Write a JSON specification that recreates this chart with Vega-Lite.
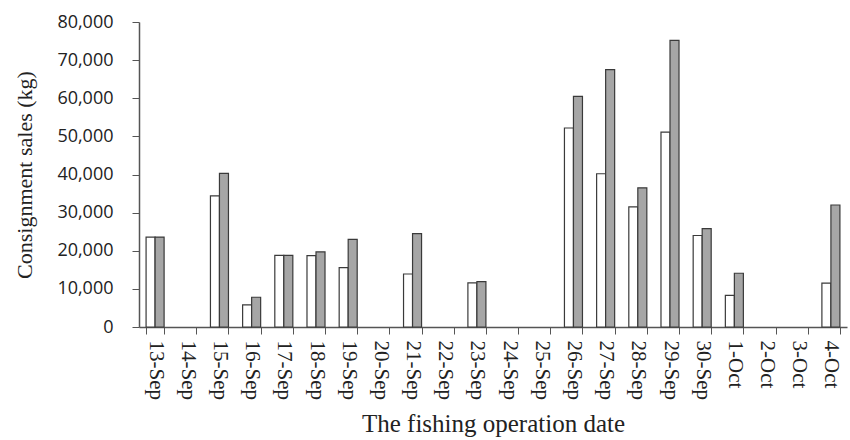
{
  "$schema": "https://vega.github.io/schema/vega-lite/v6.json",
  "autosize": {"type": "none"},
  "width": 708,
  "height": 305,
  "padding": {"left": 139, "top": 22, "right": 3, "bottom": 113},
  "background": "white",
  "config": {"view": {"stroke": null}},
  "data": {
    "values": [
      {"date": "13-Sep", "series": "A", "kg": 23600},
      {"date": "13-Sep", "series": "B", "kg": 23600},
      {"date": "15-Sep", "series": "A", "kg": 34400},
      {"date": "15-Sep", "series": "B", "kg": 40300},
      {"date": "16-Sep", "series": "A", "kg": 5800},
      {"date": "16-Sep", "series": "B", "kg": 7800},
      {"date": "17-Sep", "series": "A", "kg": 18800},
      {"date": "17-Sep", "series": "B", "kg": 18800},
      {"date": "18-Sep", "series": "A", "kg": 18700},
      {"date": "18-Sep", "series": "B", "kg": 19700},
      {"date": "19-Sep", "series": "A", "kg": 15600},
      {"date": "19-Sep", "series": "B", "kg": 23000},
      {"date": "21-Sep", "series": "A", "kg": 13900},
      {"date": "21-Sep", "series": "B", "kg": 24500},
      {"date": "23-Sep", "series": "A", "kg": 11600},
      {"date": "23-Sep", "series": "B", "kg": 11900},
      {"date": "26-Sep", "series": "A", "kg": 52200},
      {"date": "26-Sep", "series": "B", "kg": 60500},
      {"date": "27-Sep", "series": "A", "kg": 40200},
      {"date": "27-Sep", "series": "B", "kg": 67500},
      {"date": "28-Sep", "series": "A", "kg": 31500},
      {"date": "28-Sep", "series": "B", "kg": 36500},
      {"date": "29-Sep", "series": "A", "kg": 51100},
      {"date": "29-Sep", "series": "B", "kg": 75200},
      {"date": "30-Sep", "series": "A", "kg": 24000},
      {"date": "30-Sep", "series": "B", "kg": 25800},
      {"date": "1-Oct", "series": "A", "kg": 8300},
      {"date": "1-Oct", "series": "B", "kg": 14100},
      {"date": "4-Oct", "series": "A", "kg": 11500},
      {"date": "4-Oct", "series": "B", "kg": 32000}
    ]
  },
  "mark": {"type": "bar", "stroke": "#3a3a3a", "strokeWidth": 1.2},
  "encoding": {
    "x": {
      "field": "date",
      "type": "nominal",
      "sort": null,
      "scale": {
        "domain": ["13-Sep","14-Sep","15-Sep","16-Sep","17-Sep","18-Sep","19-Sep","20-Sep","21-Sep","22-Sep","23-Sep","24-Sep","25-Sep","26-Sep","27-Sep","28-Sep","29-Sep","30-Sep","1-Oct","2-Oct","3-Oct","4-Oct"],
        "paddingInner": 0.44,
        "paddingOuter": 0.22
      },
      "axis": {
        "title": "The fishing operation date",
        "titleFont": "Liberation Serif",
        "titleFontSize": 25,
        "titleFontWeight": "normal",
        "titleColor": "#222",
        "titlePadding": 12,
        "labelAngle": 90,
        "labelAlign": "left",
        "labelBaseline": "middle",
        "labelFont": "Liberation Serif",
        "labelFontSize": 21,
        "labelColor": "#222",
        "labelPadding": 6,
        "tickBand": "extent",
        "tickSize": 7,
        "tickColor": "#555",
        "domainColor": "#555",
        "domainWidth": 1.5
      }
    },
    "xOffset": {"field": "series", "type": "nominal", "scale": {"paddingInner": 0, "paddingOuter": 0}},
    "y": {
      "field": "kg",
      "type": "quantitative",
      "scale": {"domain": [0, 80000], "nice": false},
      "axis": {
        "title": "Consignment sales (kg)",
        "titleFont": "Liberation Serif",
        "titleFontSize": 22,
        "titleFontWeight": "normal",
        "titleColor": "#222",
        "titlePadding": 20,
        "values": [0,10000,20000,30000,40000,50000,60000,70000,80000],
        "format": ",d",
        "labelFont": "Open Sans",
        "labelFontSize": 18,
        "labelColor": "#222",
        "labelPadding": 19,
        "grid": false,
        "tickSize": 7,
        "tickColor": "#555",
        "domainColor": "#555",
        "domainWidth": 1.5
      }
    },
    "fill": {
      "field": "series",
      "type": "nominal",
      "scale": {"domain": ["A", "B"], "range": ["#ffffff", "#a6a6a6"]},
      "legend": null
    }
  }
}
